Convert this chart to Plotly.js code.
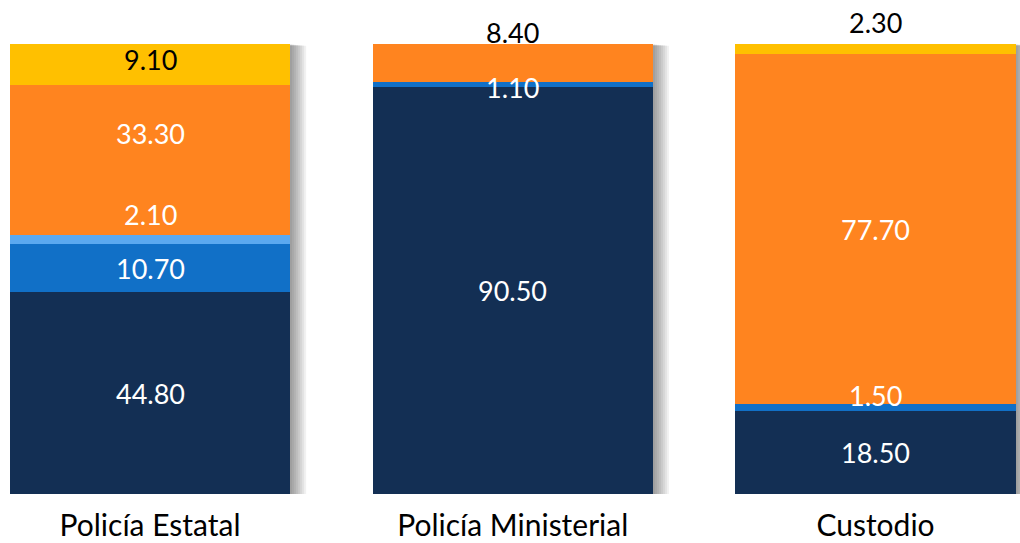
<!DOCTYPE html>
<html>
<head>
<meta charset="utf-8">
<script src="https://cdn.plot.ly/plotly-3.0.1.min.js"></script>
<style>html,body{margin:0;padding:0;background:#fff;}#chart{width:1020px;height:543px;}</style>
</head>
<body>
<div id="chart"></div>
<script>
// ---- data ----
const categories = ['Policía Estatal', 'Policía Ministerial', 'Custodio'];
const seriesNames = ['Serie 1', 'Serie 2', 'Serie 3', 'Serie 4', 'Serie 5'];
const navyValues = [44.8, 90.5, 18.5];
const blueValues = [10.7, 1.1, 1.5];
const lightBlueValues = [2.1, 0, 0];
const orangeValues = [33.3, 8.4, 77.7];
const yellowValues = [9.1, 0, 2.3];

// ---- style ----
const seriesValues = [navyValues, blueValues, lightBlueValues, orangeValues, yellowValues];
const seriesColors = ['#132F54', '#1170C7', '#5BA9F0', '#FF841F', '#FFC000'];
// label colours and vertical pixel shifts (per series, per category)
const labelColors = [
  ['#fff', '#fff', '#fff'],
  ['#fff', '#fff', '#fff'],
  ['#fff', '#fff', '#fff'],
  ['#fff', '#000', '#fff'],
  ['#000', '#000', '#000']
];
const labelShifts = [
  [0, 0, 0],
  [0, -3, 12],
  [25, 0, 0],
  [26, 30, 0],
  [5, 0, 27]
];
const FONT = 'Lato, "Open Sans", sans-serif';
const barWidth = 0.773;
const pxPerCat = 362.75;

const traces = seriesValues.map((vals, s) => ({
  type: 'bar', name: seriesNames[s], x: categories, y: vals, width: barWidth,
  marker: {color: seriesColors[s], line: {width: 0}},
  hoverinfo: 'skip', showlegend: false
}));

// soft shadow to the right of each bar, drawn below the bars
const totals = categories.map((c, i) => seriesValues.reduce((s, arr) => s + arr[i], 0));
const shapes = [];
categories.forEach((c, i) => {
  [2, 4, 6, 8, 10, 12, 14, 16].forEach(dx => {
    shapes.push({
      type: 'rect', layer: 'below', xref: 'x', yref: 'y',
      x0: i - barWidth / 2 + dx / pxPerCat, x1: i + barWidth / 2 + dx / pxPerCat,
      y0: 0, y1: totals[i] - dx / 16 * 0.4,
      fillcolor: 'rgba(0,0,0,0.055)', line: {width: 0}
    });
  });
});

const annotations = [];
categories.forEach((c, i) => {
  let base = 0;
  seriesValues.forEach((vals, s) => {
    const v = vals[i];
    if (v > 0) {
      annotations.push({
        x: c, y: base + v / 2, xref: 'x', yref: 'y',
        text: v.toFixed(2), showarrow: false, yshift: labelShifts[s][i],
        font: {family: FONT, size: 27, color: labelColors[s][i]}
      });
    }
    base += v;
  });
});

const xr = [-150 / pxPerCat, -150 / pxPerCat + 1020 / pxPerCat];
const layout = {
  width: 1020, height: 543,
  margin: {l: 0, r: 0, t: 44, b: 49, pad: 0},
  paper_bgcolor: '#fff', plot_bgcolor: '#fff',
  barmode: 'stack', showlegend: false,
  xaxis: {type: 'category', range: xr, showgrid: false, zeroline: false, showline: false,
          ticks: '', showticklabels: true, ticklabelstandoff: 11,
          tickfont: {family: FONT, size: 30, color: '#000'}, fixedrange: true},
  yaxis: {range: [0, 100], visible: false, fixedrange: true},
  shapes: shapes,
  annotations: annotations
};
Plotly.newPlot('chart', traces, layout, {staticPlot: true, displayModeBar: false});
</script>
</body>
</html>
